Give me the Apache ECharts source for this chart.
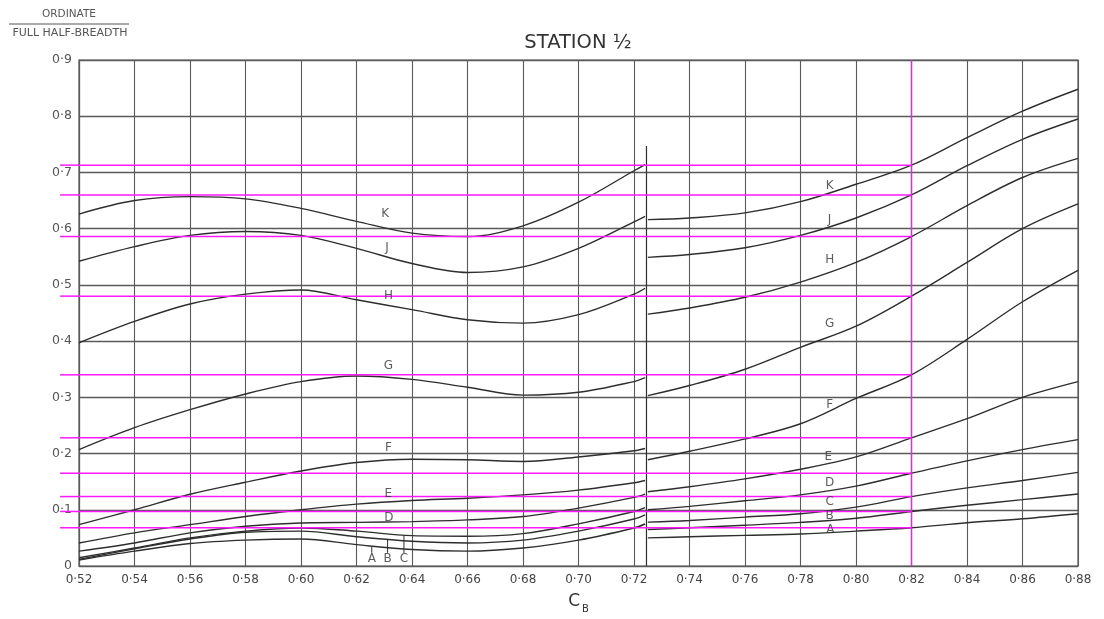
<!DOCTYPE html>
<html>
<head>
<meta charset="utf-8">
<title>Station 1/2 ordinates against block coefficient</title>
<script src="https://cdn.jsdelivr.net/npm/echarts@6/dist/echarts.min.js"></script>
<style>
  html, body { margin: 0; padding: 0; background: #ffffff; }
  #chart { width: 1104px; height: 619px; }
</style>
</head>
<body>
<div id="chart"></div>
<script>
// Block coefficient C_B sample points for the two fairing ranges
const cbLeft  = [0.52, 0.54, 0.56, 0.58, 0.60, 0.62, 0.64, 0.66, 0.68, 0.70, 0.72, 0.724];
const cbRight = [0.725, 0.74, 0.76, 0.78, 0.80, 0.82, 0.84, 0.86, 0.88];

// Ordinate / full half-breadth, waterline curves A..K (low C_B range)
const A_left = [0.0106, 0.0265, 0.040, 0.046, 0.048, 0.038, 0.0294, 0.0265, 0.032, 0.046, 0.0676, 0.0747];
const B_left = [0.0118, 0.0306, 0.048, 0.060, 0.062, 0.052, 0.044, 0.041, 0.046, 0.062, 0.0835, 0.091];
const C_left = [0.0147, 0.032, 0.050, 0.062, 0.0676, 0.062, 0.054, 0.053, 0.0576, 0.075, 0.097, 0.104];
const D_left = [0.0265, 0.041, 0.059, 0.0706, 0.0765, 0.0776, 0.079, 0.082, 0.088, 0.103, 0.122, 0.128];
const E_left = [0.041, 0.059, 0.0735, 0.088, 0.100, 0.110, 0.1165, 0.1206, 0.1265, 0.135, 0.148, 0.152];
const F_left = [0.0735, 0.100, 0.1276, 0.149, 0.169, 0.184, 0.190, 0.189, 0.186, 0.194, 0.205, 0.209];
const G_left = [0.207, 0.246, 0.278, 0.306, 0.328, 0.338, 0.332, 0.318, 0.304, 0.309, 0.328, 0.335];
const H_left = [0.397, 0.435, 0.466, 0.4835, 0.491, 0.4735, 0.456, 0.438, 0.432, 0.447, 0.4835, 0.494];
const J_left = [0.542, 0.568, 0.588, 0.595, 0.588, 0.565, 0.538, 0.522, 0.532, 0.565, 0.612, 0.622];
const K_left = [0.626, 0.650, 0.657, 0.653, 0.636, 0.613, 0.592, 0.586, 0.605, 0.647, 0.703, 0.714];

// Same curves, high C_B range
const A_right = [0.050, 0.052, 0.0545, 0.057, 0.062, 0.068, 0.077, 0.084, 0.093];
const B_right = [0.065, 0.068, 0.0725, 0.0776, 0.085, 0.097, 0.108, 0.118, 0.128];
const C_right = [0.078, 0.081, 0.087, 0.093, 0.1047, 0.1235, 0.139, 0.152, 0.1665];
const D_right = [0.100, 0.106, 0.116, 0.1265, 0.142, 0.165, 0.187, 0.207, 0.2247];
const E_right = [0.132, 0.141, 0.155, 0.172, 0.194, 0.228, 0.262, 0.300, 0.328];
const F_right = [0.189, 0.204, 0.226, 0.253, 0.298, 0.340, 0.403, 0.470, 0.526];
const G_right = [0.303, 0.321, 0.350, 0.389, 0.4265, 0.480, 0.540, 0.600, 0.644];
const H_right = [0.448, 0.459, 0.478, 0.505, 0.540, 0.586, 0.641, 0.691, 0.725];
const J_right = [0.549, 0.554, 0.566, 0.588, 0.619, 0.660, 0.712, 0.759, 0.795];
const K_right = [0.616, 0.619, 0.628, 0.648, 0.679, 0.713, 0.762, 0.809, 0.848];

const curveNames = ['A', 'B', 'C', 'D', 'E', 'F', 'G', 'H', 'J', 'K'];
const leftSets  = [A_left, B_left, C_left, D_left, E_left, F_left, G_left, H_left, J_left, K_left];
const rightSets = [A_right, B_right, C_right, D_right, E_right, F_right, G_right, H_right, J_right, K_right];

// Read-off lines at C_B = 0.82 (values of A..K there)
const readCb = 0.82;
const readStartCb = 0.5132;
const readValues = [0.068, 0.097, 0.1235, 0.165, 0.228, 0.340, 0.480, 0.586, 0.660, 0.713];

// Break between the two fairing ranges
const breakCb = 0.7245;
const breakTop = 0.747;

// Curve letters: [C_B, ordinate, letter]
const curveLabels = [
  [0.6303, 0.626, 'K'], [0.631, 0.566, 'J'], [0.6315, 0.481, 'H'], [0.6315, 0.356, 'G'],
  [0.6315, 0.210, 'F'], [0.6315, 0.128, 'E'], [0.6317, 0.085, 'D'],
  [0.6255, 0.0118, 'A'], [0.6312, 0.0118, 'B'], [0.6371, 0.0118, 'C'],
  [0.7905, 0.676, 'K'], [0.7905, 0.616, 'J'], [0.7905, 0.544, 'H'], [0.7905, 0.431, 'G'],
  [0.7905, 0.2865, 'F'], [0.7900, 0.194, 'E'], [0.7905, 0.148, 'D'], [0.7905, 0.1147, 'C'],
  [0.7905, 0.0894, 'B'], [0.7908, 0.0647, 'A']
];

// Leader strokes from the A, B, C letters up to their curves: [C_B, bottom, top]
const leaders = [
  [0.6255, 0.0235, 0.0345],
  [0.6312, 0.0235, 0.0475],
  [0.6371, 0.0230, 0.0540]
];

const xTicks = { min: 0.52, max: 0.88, step: 0.02 };
const yTicks = { min: 0, max: 0.9, step: 0.1 };

function pairs(xs, ys) { return xs.map((x, i) => [x, ys[i]]); }
function fmtDecimal(v, digits) {
  if (Math.abs(v) < 1e-9) return '0';
  return v.toFixed(digits).replace('.', '·');
}

const ink = '#2e2e2e';
const gridInk = '#5a5a5a';
const magenta = '#ff19ff';
const font = 'DejaVu Sans';

const series = [];

curveNames.forEach((name, i) => {
  [[cbLeft, leftSets[i]], [cbRight, rightSets[i]]].forEach(([xs, ys]) => {
    series.push({
      type: 'line',
      name: name,
      data: pairs(xs, ys),
      smooth: 0.35,
      showSymbol: false,
      symbol: 'none',
      lineStyle: { color: ink, width: 1.4 },
      z: 5
    });
  });
});

// Divider between the ranges
series.push({
  type: 'line',
  data: [[breakCb, 0], [breakCb, breakTop]],
  symbol: 'none',
  lineStyle: { color: ink, width: 1.2 },
  z: 4
});

// Leader strokes
leaders.forEach(([x, y0, y1]) => {
  series.push({
    type: 'line',
    data: [[x, y0], [x, y1]],
    symbol: 'none',
    lineStyle: { color: ink, width: 1 },
    z: 4
  });
});

// Magenta read-off lines inside the plot
readValues.forEach((v) => {
  series.push({
    type: 'line',
    data: [[xTicks.min, v], [readCb, v]],
    symbol: 'none',
    lineStyle: { color: magenta, width: 1.5 },
    z: 8
  });
});
series.push({
  type: 'line',
  data: [[readCb, yTicks.min], [readCb, yTicks.max]],
  symbol: 'none',
  lineStyle: { color: magenta, width: 1.5 },
  z: 8
});

// Curve letters
series.push({
  type: 'scatter',
  data: curveLabels,
  symbolSize: 0,
  label: {
    show: true,
    position: 'inside',
    formatter: (p) => p.data[2],
    color: '#333',
    fontFamily: font,
    fontSize: 12
  },
  z: 9
});

const staticGraphic = [
  {
    id: 'title', type: 'text', x: 578, y: 43,
    style: { text: 'STATION ½', fill: '#333', font: '19.5px "DejaVu Sans"', textAlign: 'center', textVerticalAlign: 'middle' }
  },
  {
    id: 'num', type: 'text', x: 69, y: 14,
    style: { text: 'ORDINATE', fill: '#555', font: '10.5px "DejaVu Sans"', textAlign: 'center', textVerticalAlign: 'middle' }
  },
  {
    id: 'bar', type: 'line', shape: { x1: 9, y1: 24, x2: 129, y2: 24 },
    style: { stroke: '#555', lineWidth: 1 }
  },
  {
    id: 'den', type: 'text', x: 70, y: 33,
    style: { text: 'FULL HALF-BREADTH', fill: '#555', font: '11px "DejaVu Sans"', textAlign: 'center', textVerticalAlign: 'middle' }
  }
];

const chart = echarts.init(document.getElementById('chart'), null, { renderer: 'canvas' });

chart.setOption({
  animation: false,
  backgroundColor: '#ffffff',
  grid: {
    left: 79, right: 26, top: 60, bottom: 49,
    show: true, borderColor: gridInk, borderWidth: 1.2
  },
  xAxis: {
    type: 'value',
    min: xTicks.min, max: xTicks.max, interval: xTicks.step,
    axisLine: { show: true, lineStyle: { color: gridInk, width: 1.2 } },
    axisTick: { show: false },
    splitLine: { show: true, lineStyle: { color: gridInk, width: 1.1 } },
    axisLabel: {
      formatter: (v) => fmtDecimal(v, 2),
      color: '#444', fontFamily: font, fontSize: 12, margin: 8
    },
    name: '{c|C}{s|B}',
    nameLocation: 'middle',
    nameGap: 23,
    nameTextStyle: {
      rich: {
        c: { fontFamily: font, fontSize: 17, color: '#333' },
        s: { fontFamily: font, fontSize: 10, color: '#333', padding: [15, 0, 0, 2] }
      }
    }
  },
  yAxis: {
    type: 'value',
    min: yTicks.min, max: yTicks.max, interval: yTicks.step,
    axisLine: { show: true, lineStyle: { color: gridInk, width: 1.2 } },
    axisTick: { show: false },
    splitLine: { show: true, lineStyle: { color: gridInk, width: 1.3 } },
    axisLabel: {
      formatter: (v) => fmtDecimal(v, 1),
      color: '#555', fontFamily: font, fontSize: 12.5, margin: 7,
      verticalAlign: 'middle', padding: [0, 0, 5, 0]
    }
  },
  graphic: staticGraphic,
  series: series
});

// The read-off lines run a little past the ordinate axis to the left;
// place those short stubs with the chart's own coordinate conversion.
const stubs = readValues.map((v, i) => {
  const a = chart.convertToPixel({ gridIndex: 0 }, [readStartCb, v]);
  const b = chart.convertToPixel({ gridIndex: 0 }, [xTicks.min, v]);
  return {
    id: 'stub' + i, type: 'line', z: 100,
    shape: { x1: a[0], y1: a[1], x2: b[0], y2: b[1] },
    style: { stroke: magenta, lineWidth: 1.5 }
  };
});
chart.setOption({ graphic: staticGraphic.concat(stubs) });
</script>
</body>
</html>
